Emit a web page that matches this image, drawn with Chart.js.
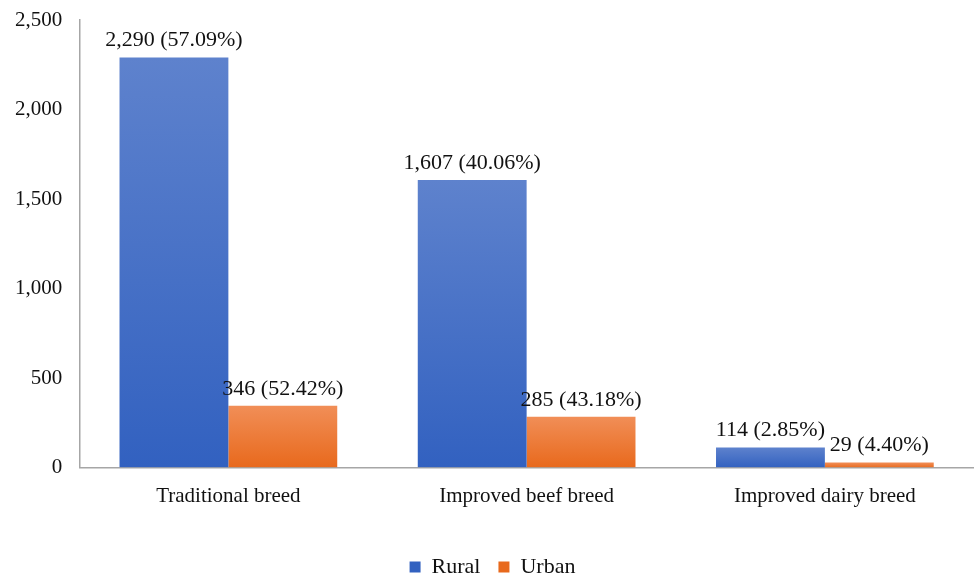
<!DOCTYPE html>
<html>
<head>
<meta charset="utf-8">
<script src="https://cdn.jsdelivr.net/npm/chart.js@4/dist/chart.umd.min.js"></script>
<style>
  html, body { margin: 0; padding: 0; background: #fff; }
  #wrap { width: 974px; height: 578px; }
</style>
</head>
<body>
<div id="wrap"><canvas id="breeds"></canvas></div>
<script>
const categories = ['Traditional breed', 'Improved beef breed', 'Improved dairy breed'];
const rural = [2290, 1607, 114];
const urban = [346, 285, 29];
const ruralPct = ['57.09%', '40.06%', '2.85%'];
const urbanPct = ['52.42%', '43.18%', '4.40%'];

const font = "'Liberation Serif', 'Times New Roman', serif";

// gradient from the top of each bar down to the axis, like the Excel fill
function barGradient(light, dark) {
  return (c) => {
    const chart = c.chart;
    if (!chart.chartArea || !chart.scales.y || c.raw == null) return dark;
    const y = chart.scales.y;
    const top = y.getPixelForValue(c.raw);
    const base = y.getPixelForValue(0);
    if (!isFinite(top) || base - top < 1) return dark;
    const g = chart.ctx.createLinearGradient(0, top, 0, base);
    g.addColorStop(0, light);
    g.addColorStop(1, dark);
    return g;
  };
}

const valueLabels = {
  id: 'valueLabels',
  afterDatasetsDraw(chart) {
    const ctx = chart.ctx;
    const pcts = [ruralPct, urbanPct];
    ctx.save();
    ctx.font = '22px ' + font;
    ctx.fillStyle = '#111';
    ctx.textAlign = 'center';
    ctx.textBaseline = 'bottom';
    chart.data.datasets.forEach((ds, i) => {
      chart.getDatasetMeta(i).data.forEach((bar, j) => {
        const txt = ds.data[j].toLocaleString('en-US') + ' (' + pcts[i][j] + ')';
        ctx.fillText(txt, bar.x, bar.y - 6);
      });
    });
    ctx.restore();
  }
};

new Chart(document.getElementById('breeds'), {
  type: 'bar',
  data: {
    labels: categories,
    datasets: [{
      label: 'Rural',
      data: rural,
      backgroundColor: barGradient('#5e82cd', '#3261c0'),
      borderWidth: 0
    }, {
      label: 'Urban',
      data: urban,
      backgroundColor: barGradient('#f18e57', '#e8691c'),
      borderWidth: 0
    }]
  },
  options: {
    responsive: true,
    maintainAspectRatio: false,
    animation: false,
    layout: { padding: { top: 20, right: 0, left: 11, bottom: -10 } },
    datasets: { bar: { barPercentage: 1, categoryPercentage: 0.73 } },
    scales: {
      x: {
        grid: { display: false, drawTicks: false },
        border: { display: true, color: '#a6a6a6', width: 1.5 },
        ticks: { color: '#111', font: { family: font, size: 21 }, padding: 16 },
        afterFit(s) { s.height += 13; }
      },
      y: {
        min: 0,
        max: 2500,
        grid: { display: true, drawOnChartArea: false, drawTicks: true, tickLength: 13, tickColor: 'rgba(0,0,0,0)' },
        border: { display: true, color: '#a6a6a6', width: 1.5 },
        ticks: { stepSize: 500, color: '#111', font: { family: font, size: 21 }, padding: 4 }
      }
    },
    plugins: {
      legend: {
        position: 'bottom',
        labels: {
          boxWidth: 11,
          boxHeight: 11,
          color: '#111',
          font: { family: font, size: 22 },
          padding: 18
        }
      },
      tooltip: { enabled: false }
    }
  },
  plugins: [valueLabels]
});
</script>
</body>
</html>
